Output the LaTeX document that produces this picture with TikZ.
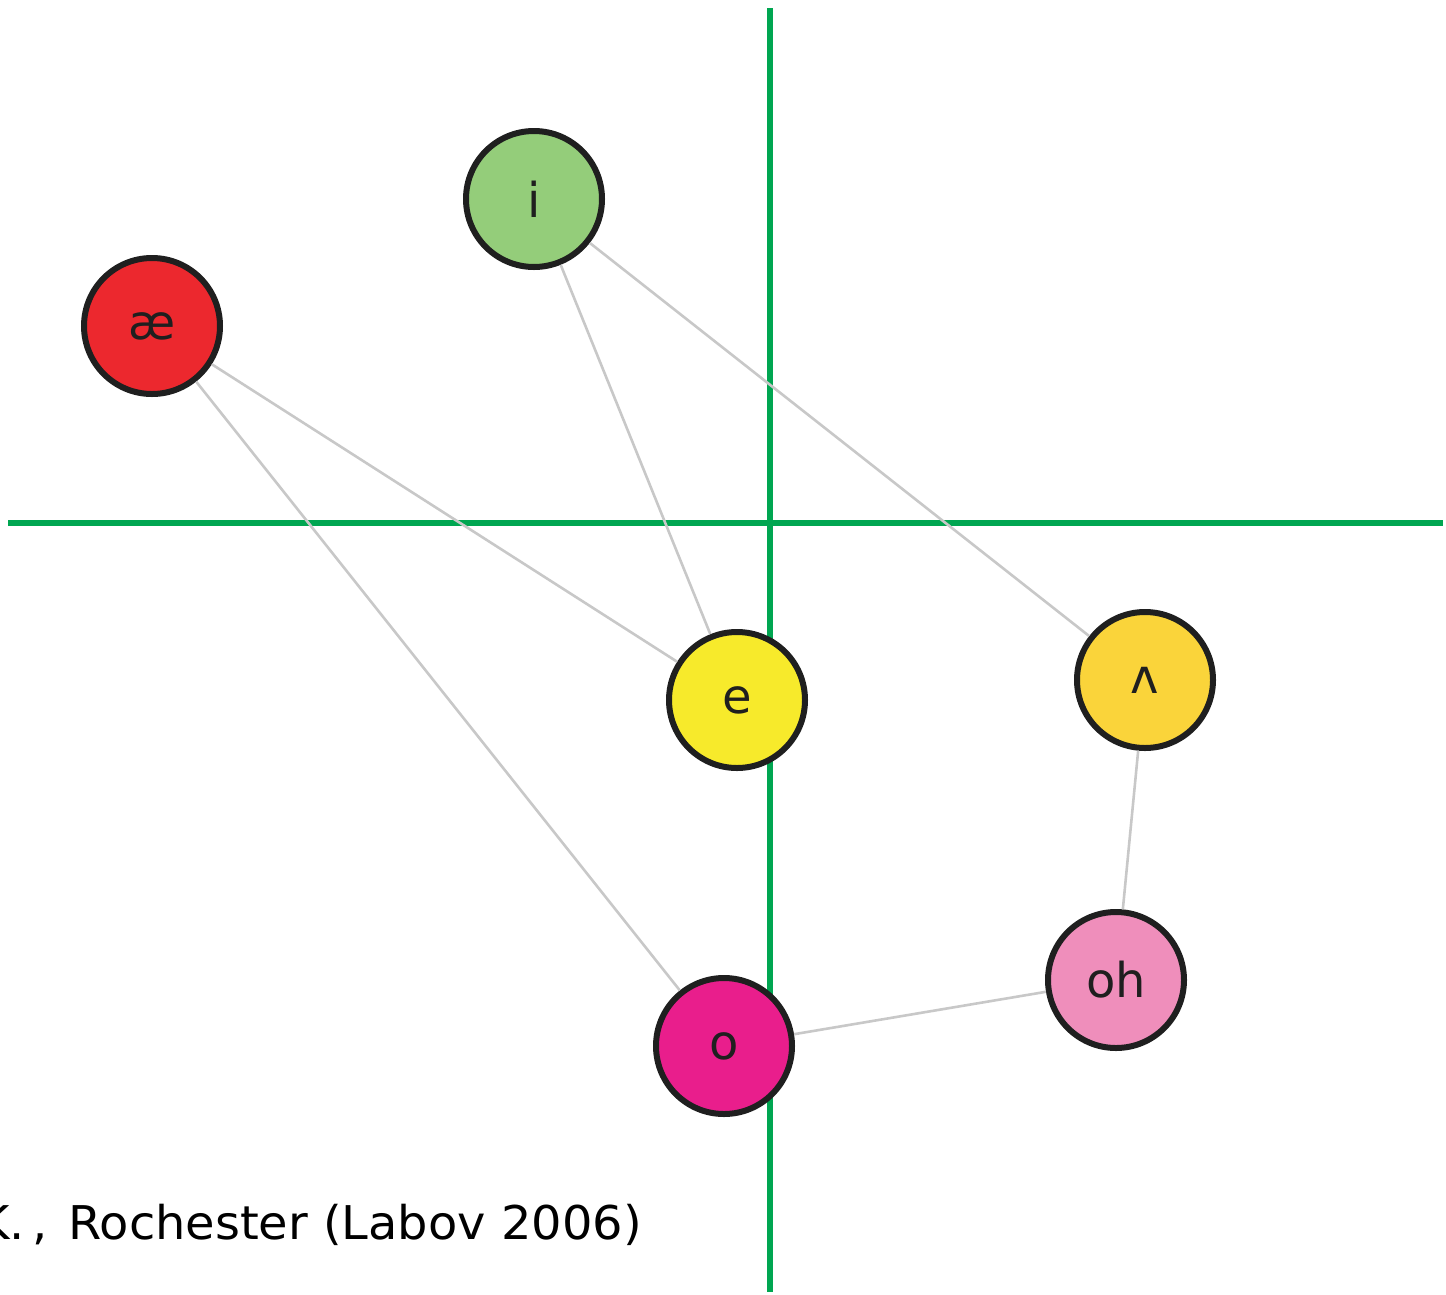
\documentclass[tikz,border=0pt]{standalone}
\usepackage{fontspec}
\setmainfont{DejaVu Sans}
\begin{document}
\begin{tikzpicture}[x=1pt,y=-1pt,
  vowel/.style={circle,draw=black!88,line width=6pt,minimum size=136pt,inner sep=0pt,
    text=black!88,font=\fontsize{48}{52}\selectfont},
  axis/.style={draw={rgb,255:red,0;green,166;blue,81},line width=5.5pt},
  link/.style={draw={rgb,255:red,200;green,200;blue,200},line width=2.6pt}]
\useasboundingbox (0,0) rectangle (1446,1294);
\definecolor{cI}{RGB}{148,205,122}
\definecolor{cAE}{RGB}{236,40,46}
\definecolor{cE}{RGB}{247,234,43}
\definecolor{cV}{RGB}{250,212,58}
\definecolor{cOH}{RGB}{239,142,187}
\definecolor{cO}{RGB}{233,30,140}
\coordinate (vt) at (770,8);
\coordinate (vb) at (770,1292);
\coordinate (hl) at (8,523);
\coordinate (hr) at (1443,523);
\draw[axis] (vt) -- (vb);
\draw[axis] (hl) -- (hr);
\node[vowel,fill=cI] (i) at (534,199) {i};
\node[vowel,fill=cAE] (ae) at (152,326) {æ};
\node[vowel,fill=cE] (e) at (737,700) {e};
\node[vowel,fill=cV] (v) at (1145,680) {ʌ};
\node[vowel,fill=cOH] (oh) at (1116,980) {oh};
\node[vowel,fill=cO] (o) at (724,1046) {o};
\draw[link] (i) -- (e);
\draw[link] (i) -- (v);
\draw[link] (ae) -- (e);
\draw[link] (ae) -- (o);
\draw[link] (v) -- (oh);
\draw[link] (oh) -- (o);
\node[anchor=base east,inner sep=0pt,font=\fontsize{46.5}{50}\selectfont] (cap) at (642,1239)
  {\scalebox{1.03}[1]{K.\kern8pt,\kern5pt\ Rochester (Labov 2006)}};
\end{tikzpicture}
\end{document}
